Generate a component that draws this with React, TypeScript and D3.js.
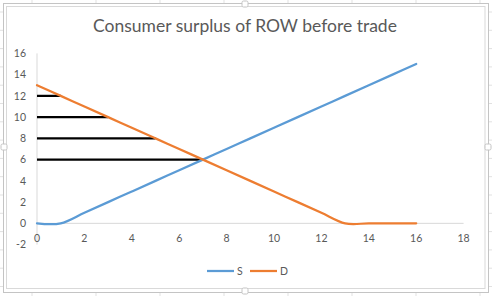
import React from "react";
import * as d3 from "d3";

const title = "Consumer surplus of ROW before trade";
const xValues = [0, 1, 2, 3, 4, 5, 6, 7, 8, 9, 10, 11, 12, 13, 14, 15, 16];
const supply = [0, 0, 1, 2, 3, 4, 5, 6, 7, 8, 9, 10, 11, 12, 13, 14, 15];
const demand = [13, 12, 11, 10, 9, 8, 7, 6, 5, 4, 3, 2, 1, 0, 0, 0, 0];
const surplusLevels = [12, 10, 8, 6];
const surplusEnds = [1, 3, 5, 7];
const xTicks = [0, 2, 4, 6, 8, 10, 12, 14, 16, 18];
const yTicks = [-2, 0, 2, 4, 6, 8, 10, 12, 14, 16];
const seriesNames = ["S", "D"];
const seriesColors = ["#5B9BD5", "#ED7D31"];

const W = 492;
const H = 296;

export default function App() {
  const x = d3.scaleLinear().domain([0, 18]).range([37, 463.6]);
  const y = d3.scaleLinear().domain([-2, 16]).range([244.6, 53.4]);
  const line = d3
    .line<[number, number]>()
    .x((d) => x(d[0]))
    .y((d) => y(d[1]))
    .curve(d3.curveCardinal.tension(0));
  const sPts: [number, number][] = xValues.map((v, i) => [v, supply[i]]);
  const dPts: [number, number][] = xValues.map((v, i) => [v, demand[i]]);
  const font = "Lato, 'Open Sans', sans-serif";
  const textColor = "#595959";

  const colLines = d3.range(0, 9).map((k) => 32 + 64 * k);
  const rowLines = d3.range(0, 18).map((k) => 12 + 18.3 * k);

  const handles: [number, number][] = [
    [245, 4],
    [245, 291],
    [4, 147],
    [488, 147],
  ];

  return (
    <svg
      width={W}
      height={H}
      style={{ position: "absolute", left: 0, top: 0, display: "block" }}
    >
      <rect x={0} y={0} width={W} height={H} fill="#ffffff" />
      {colLines.map((cx) => (
        <line key={"c" + cx} x1={cx} x2={cx} y1={0} y2={H} stroke="#e1e1e1" />
      ))}
      {rowLines.map((ry) => (
        <line key={"r" + ry} x1={0} x2={W} y1={ry} y2={ry} stroke="#e1e1e1" />
      ))}
      <rect x={3.5} y={3.5} width={485} height={289} fill="#ffffff" stroke="#c4c4c4" />
      <rect x={6.5} y={6.5} width={478.5} height={282} fill="#ffffff" stroke="#d9d9d9" />
      {handles.map(([hx, hy], i) => (
        <rect
          key={"h" + i}
          x={hx - 3}
          y={hy - 3}
          width={6}
          height={6}
          rx={1.5}
          fill="#ffffff"
          stroke="#c4c4c4"
        />
      ))}

      <text
        x={245}
        y={32}
        textAnchor="middle"
        fontFamily={font}
        fontSize={17.5}
        fill={textColor}
      >
        {title}
      </text>

      {/* axes */}
      <line x1={x(0)} x2={x(0)} y1={y(16)} y2={y(-2)} stroke="#d9d9d9" strokeWidth={1} />
      <line x1={x(0)} x2={x(18)} y1={y(0)} y2={y(0)} stroke="#d9d9d9" strokeWidth={1} />

      {yTicks.map((t) => (
        <text
          key={"y" + t}
          x={26}
          y={y(t) + 3.7}
          textAnchor="end"
          fontFamily={font}
          fontSize={10.5}
          fill={textColor}
        >
          {t}
        </text>
      ))}
      {xTicks.map((t) => (
        <text
          key={"x" + t}
          x={x(t)}
          y={242}
          textAnchor="middle"
          fontFamily={font}
          fontSize={10.5}
          fill={textColor}
        >
          {t}
        </text>
      ))}

      {surplusLevels.map((lv, i) => (
        <path
          key={"cs" + i}
          d={
            d3
              .line<[number, number]>()
              .x((d) => x(d[0]))
              .y((d) => y(d[1]))([
              [0, lv],
              [surplusEnds[i], lv],
            ]) || ""
          }
          stroke="#000000"
          strokeWidth={2.25}
          fill="none"
        />
      ))}

      <path d={line(sPts) || ""} fill="none" stroke={seriesColors[0]} strokeWidth={2.25} strokeLinecap="round" />
      <path d={line(dPts) || ""} fill="none" stroke={seriesColors[1]} strokeWidth={2.25} strokeLinecap="round" />

      {/* legend */}
      {seriesNames.map((n, i) => {
        const lx = 207 + i * 43;
        return (
          <g key={"lg" + n}>
            <line x1={lx} x2={lx + 27} y1={271} y2={271} stroke={seriesColors[i]} strokeWidth={2.25} />
            <text x={lx + 30} y={275} fontFamily={font} fontSize={10.5} fill={textColor}>
              {n}
            </text>
          </g>
        );
      })}
    </svg>
  );
}
